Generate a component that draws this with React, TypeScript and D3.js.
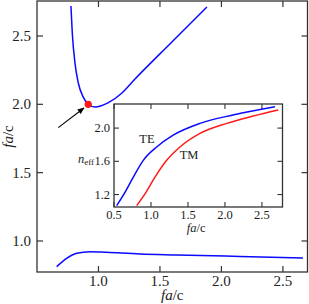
import React from 'react';
import * as d3 from 'd3';

// main panel: two dispersion branches
const upperX = [0.776, 0.787, 0.809, 0.836, 0.876, 0.917, 0.972, 1.077, 1.191, 1.297, 1.589, 1.882];
const upperY = [2.72, 2.522, 2.302, 2.156, 2.053, 2.002, 1.98, 2.01, 2.083, 2.185, 2.449, 2.712];
const lowerX = [0.66, 0.741, 0.823, 0.931, 1.067, 1.337, 1.636, 2.15, 2.663];
const lowerY = [0.812, 0.873, 0.91, 0.922, 0.917, 0.905, 0.898, 0.887, 0.876];
const mainTicks = [1.0, 1.5, 2.0, 2.5];
const markPoint = [0.917, 2.0];
const arrowFrom = [0.673, 1.829];
const arrowTo = [0.882, 1.973];

// inset: effective index
const teX = [0.536, 0.662, 0.761, 0.896, 1.077, 1.3, 1.662, 2.108, 2.676];
const teY = [1.067, 1.248, 1.41, 1.612, 1.773, 1.915, 2.057, 2.158, 2.258];
const tmX = [0.807, 0.919, 1.054, 1.212, 1.392, 1.662, 2.023, 2.382, 2.72];
const tmY = [1.067, 1.208, 1.41, 1.612, 1.773, 1.936, 2.057, 2.145, 2.218];
const insetXTicks = [0.5, 1.0, 1.5, 2.0, 2.5];
const insetYTicks = [1.2, 1.6, 2.0];

const W = 309;
const H = 304;
const FONT = 'Liberation Serif, Times New Roman, Times, DejaVu Serif, serif';
const BLUE = '#0a0aff';
const RED = '#ff1a1a';
const AX = '#333';

const App: React.FC = () => {
  // main scales
  const x = d3.scaleLinear().domain([0.5, 2.7]).range([37, 307.5]);
  const y = d3.scaleLinear().domain([0.773, 2.756]).range([272, 1]);

  // inset scales
  const ix = d3.scaleLinear().domain([0.5, 2.778]).range([114, 282.5]);
  const iy = d3.scaleLinear().domain([1.05, 2.29]).range([207, 104]);

  const mainLine = d3.line<[number, number]>()
    .x(d => x(d[0]))
    .y(d => y(d[1]))
    .curve(d3.curveMonotoneX);
  const insetLine = d3.line<[number, number]>()
    .x(d => ix(d[0]))
    .y(d => iy(d[1]))
    .curve(d3.curveMonotoneX);

  const zip = (a: number[], b: number[]) => a.map((v, i) => [v, b[i]] as [number, number]);

  const [x0, x1] = x.range();
  const [y0, y1] = y.range();
  const [ix0, ix1] = ix.range();
  const [iy0, iy1] = iy.range();
  const tl = 6;
  const itl = 5;

  const txt = { fontFamily: FONT, fill: '#222' };

  return (
    <svg width={W} height={H}
      style={{ position: 'absolute', left: 0, top: 0, background: '#fff' }}>
      <defs>
        <marker id="arr" viewBox="0 0 10 10" refX="9" refY="5" markerWidth="7" markerHeight="7"
          markerUnits="userSpaceOnUse" orient="auto">
          <path d="M0,1 L10,5 L0,9 Z" fill="#000" />
        </marker>
      </defs>

      {/* main frame */}
      <rect x={x0} y={y1} width={x1 - x0} height={y0 - y1} fill="none" stroke={AX} strokeWidth={1.3} />
      {mainTicks.map(t => (
        <g key={'mx' + t}>
          <line x1={x(t)} x2={x(t)} y1={y0} y2={y0 - tl} stroke={AX} strokeWidth={1.2} />
          <line x1={x(t)} x2={x(t)} y1={y1} y2={y1 + tl} stroke={AX} strokeWidth={1.2} />
          <text x={x(t)} y={y0 + 14} fontSize={15} textAnchor="middle" style={txt}>{t.toFixed(1)}</text>
        </g>
      ))}
      {mainTicks.map(t => (
        <g key={'my' + t}>
          <line x1={x0} x2={x0 + tl} y1={y(t)} y2={y(t)} stroke={AX} strokeWidth={1.2} />
          <line x1={x1} x2={x1 - tl} y1={y(t)} y2={y(t)} stroke={AX} strokeWidth={1.2} />
          <text x={x0 - 6} y={y(t) + 5} fontSize={15} textAnchor="end" style={txt}>{t.toFixed(1)}</text>
        </g>
      ))}
      <text x={(x0 + x1) / 2} y={300} fontSize={15} textAnchor="middle" style={txt}>
        <tspan fontStyle="italic">fa</tspan>/c
      </text>
      <text transform={`translate(13,${(y0 + y1) / 2}) rotate(-90)`} fontSize={15} textAnchor="middle" style={txt}>
        <tspan fontStyle="italic">fa</tspan>/c
      </text>

      {/* main curves */}
      <path d={mainLine(zip(upperX, upperY)) || ''} fill="none" stroke={BLUE} strokeWidth={1.5} />
      <path d={mainLine(zip(lowerX, lowerY)) || ''} fill="none" stroke={BLUE} strokeWidth={1.5} />
      <line x1={x(arrowFrom[0])} y1={y(arrowFrom[1])} x2={x(arrowTo[0])} y2={y(arrowTo[1])}
        stroke="#000" strokeWidth={1.1} markerEnd="url(#arr)" />
      <circle cx={x(markPoint[0])} cy={y(markPoint[1])} r={3.6} fill={RED} />

      {/* inset */}
      <rect x={ix0} y={iy1} width={ix1 - ix0} height={iy0 - iy1} fill="#fff" stroke={AX} strokeWidth={1.3} />
      {insetXTicks.map(t => (
        <g key={'ix' + t}>
          <line x1={ix(t)} x2={ix(t)} y1={iy0} y2={iy0 - itl} stroke={AX} strokeWidth={1.1} />
          <line x1={ix(t)} x2={ix(t)} y1={iy1} y2={iy1 + itl} stroke={AX} strokeWidth={1.1} />
          <text x={ix(t)} y={iy0 + 12} fontSize={12.5} textAnchor="middle" style={txt}>{t.toFixed(1)}</text>
        </g>
      ))}
      {insetYTicks.map(t => (
        <g key={'iy' + t}>
          <line x1={ix0} x2={ix0 + itl} y1={iy(t)} y2={iy(t)} stroke={AX} strokeWidth={1.1} />
          <line x1={ix1} x2={ix1 - itl} y1={iy(t)} y2={iy(t)} stroke={AX} strokeWidth={1.1} />
          <text x={ix0 - 4} y={iy(t) + 4} fontSize={12.5} textAnchor="end" style={txt}>{t.toFixed(1)}</text>
        </g>
      ))}
      <text x={(ix0 + ix1) / 2 - 2} y={iy0 + 25} fontSize={12.5} textAnchor="middle" style={txt}>
        <tspan fontStyle="italic">fa</tspan>/c
      </text>
      <text x={78} y={iy(1.6) + 2} fontSize={12.5} style={txt}>
        <tspan fontStyle="italic">n</tspan>
        <tspan fontSize={9} dy={2}>eff</tspan>
      </text>
      <path d={insetLine(zip(teX, teY)) || ''} fill="none" stroke={BLUE} strokeWidth={1.5} />
      <path d={insetLine(zip(tmX, tmY)) || ''} fill="none" stroke={RED} strokeWidth={1.5} />
      <text x={147} y={143} fontSize={12.5} textAnchor="middle" style={txt}>TE</text>
      <text x={189} y={159} fontSize={12.5} textAnchor="middle" style={txt}>TM</text>
    </svg>
  );
};

export default App;
